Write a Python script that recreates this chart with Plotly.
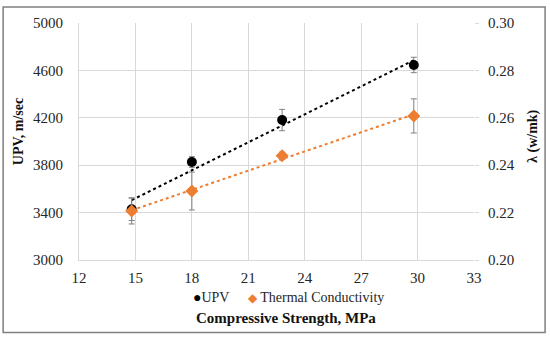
import numpy as np
import plotly.graph_objects as go

strength = [14.8, 18.0, 22.8, 29.8]
upv = [3428, 3827, 4181, 4646]
upv_err = [95, 45, 90, 65]
tc = [0.2207, 0.2291, 0.2440, 0.2608]
tc_err = [0.0055, 0.008, 0.0015, 0.0072]

x_ticks = [12, 15, 18, 21, 24, 27, 30, 33]
y_ticks = [3000, 3400, 3800, 4200, 4600, 5000]
y2_ticks = [0.20, 0.22, 0.24, 0.26, 0.28, 0.30]

FONT = "Times New Roman"
ORANGE = "#ED7D31"
GRID = "#d9d9d9"
ERR = "#808080"
TXT = "#262626"

xs = np.array(strength)
p1 = np.polyfit(xs, np.array(upv), 1)
p2 = np.polyfit(xs, np.array(tc), 1)
xt = [xs.min(), xs.max()]

fig = go.Figure()
fig.add_trace(go.Scatter(x=xt, y=np.polyval(p1, xt), mode="lines",
                         line=dict(color="black", width=2, dash="dot"),
                         showlegend=False, hoverinfo="skip"))
fig.add_trace(go.Scatter(x=xt, y=np.polyval(p2, xt), mode="lines", yaxis="y2",
                         line=dict(color=ORANGE, width=2, dash="dot"),
                         showlegend=False, hoverinfo="skip"))
fig.add_trace(go.Scatter(x=strength, y=upv, mode="markers", name="UPV",
                         marker=dict(symbol="circle", size=10, color="black"),
                         showlegend=False,
                         error_y=dict(type="data", array=upv_err, color=ERR,
                                      thickness=1, width=3)))
fig.add_trace(go.Scatter(x=strength, y=tc, mode="markers", name="Thermal Conductivity",
                         yaxis="y2", showlegend=False,
                         marker=dict(symbol="diamond", size=10, color=ORANGE),
                         error_y=dict(type="data", array=tc_err, color=ERR,
                                      thickness=1, width=3)))

tickfont = dict(family=FONT, size=15, color=TXT)

fig.update_layout(
    width=550, height=339,
    margin=dict(l=79, r=76, t=23, b=79),
    paper_bgcolor="white", plot_bgcolor="white",
    font=dict(family=FONT, size=15, color=TXT),
    showlegend=False,
    xaxis=dict(range=[12, 33], tickvals=x_ticks, showgrid=True, gridcolor=GRID,
               gridwidth=1, zeroline=False, showline=True, linecolor=GRID,
               ticks="", tickfont=tickfont, ticklabelstandoff=4),
    yaxis=dict(range=[3000, 5000], tickvals=y_ticks, showgrid=True, gridcolor=GRID,
               zeroline=False, showline=True, linecolor=GRID, ticks="",
               tickfont=tickfont, ticklabelstandoff=12),
    yaxis2=dict(range=[0.2, 0.3], tickvals=y2_ticks, tickformat=".2f",
                overlaying="y", side="right", showgrid=False, zeroline=False,
                showline=False, ticks="outside", ticklen=4, tickcolor=GRID,
                tickfont=tickfont, ticklabelstandoff=6),
    shapes=[dict(type="rect", xref="paper", yref="paper",
                 x0=-0.192, x1=1.18, y0=-0.306, y1=1.0675,
                 line=dict(color="#7f7f7f", width=1.5), layer="below")],
    annotations=[
        dict(text="<b>Compressive Strength, MPa</b>", xref="paper", yref="paper",
             x=0.524, y=-0.245, xanchor="center", yanchor="middle", showarrow=False,
             font=dict(family=FONT, size=15, color="#111")),
        dict(text="<b>UPV, m/sec</b>", xref="paper", yref="paper", textangle=-90,
             x=-0.154, y=0.54, xanchor="center", yanchor="middle", showarrow=False,
             font=dict(family=FONT, size=14, color="#111")),
        dict(text="<b>λ (w/mk)</b>", xref="paper", yref="paper", textangle=-90,
             x=1.149, y=0.523, xanchor="center", yanchor="middle", showarrow=False,
             font=dict(family=FONT, size=14, color="#111")),
        dict(text="<span style='color:black;font-size:14px'>●</span>UPV",
             xref="paper", yref="paper", x=0.283, y=-0.16, xanchor="left",
             yanchor="middle", showarrow=False,
             font=dict(family=FONT, size=14, color=TXT)),
        dict(text="<span style='color:#ED7D31;font-size:12px'>◆</span> Thermal Conductivity",
             xref="paper", yref="paper", x=0.422, y=-0.16, xanchor="left",
             yanchor="middle", showarrow=False,
             font=dict(family=FONT, size=14, color=TXT)),
    ],
)

fig.write_html("out.html", config={"displayModeBar": False},
               post_script="document.body.style.margin='0';")
